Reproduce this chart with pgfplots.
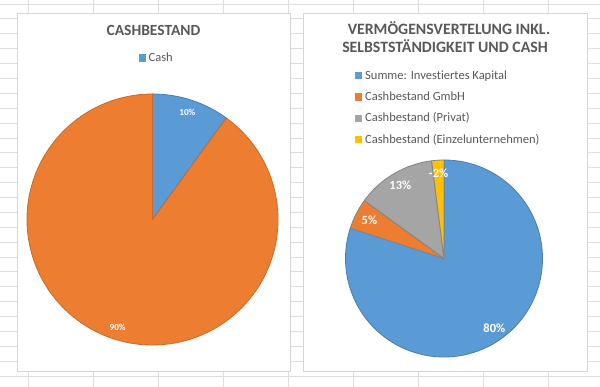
\documentclass[border=0pt]{standalone}
\usepackage{fontspec}
\setmainfont{Carlito}[Ligatures=NoCommon]
\usepackage{pgfplots}
\usepackage{pgfplotstable}
\pgfplotsset{compat=1.18}
\definecolor{xblue}{HTML}{5B9BD5}
\definecolor{xorange}{HTML}{ED7D31}
\definecolor{xgray}{HTML}{A5A5A5}
\definecolor{xyellow}{HTML}{FFC000}
\definecolor{txt}{HTML}{595959}
\definecolor{gridc}{HTML}{DEDEDE}
\definecolor{panelc}{HTML}{D6D6D6}

\pgfplotstableread{
slice value
Cash 10
Rest 90
}\cashdata
\pgfplotstableread{
slice value
Kapital 80
GmbH 5
Privat 13
Einzel -2
}\vermdata

\newcommand\slice[5]{%
  \fill[#4, draw=#5, line width=0.8pt, line join=round] (axis cs:0,0) -- (axis cs:{cos(#1)},{sin(#1)})
    arc[start angle=#1, end angle=#2, radius=#3] -- cycle;}

\begin{document}
\begin{tikzpicture}
\begin{scope}[x=1pt,y=1pt]
\fill[white] (0,0) rectangle (600,387);
% spreadsheet grid
\foreach \k in {0,...,8} \draw[overlay, gridc, line width=0.8pt] ({28+65*\k},0) -- ({28+65*\k},387);
\foreach \k in {0,...,25} \draw[overlay, gridc, line width=0.8pt] (0,{387-4-14.88*\k}) -- (600,{387-4-14.88*\k});
% chart panels
\filldraw[fill=white, draw=panelc, line width=0.8pt] (17,{387-13.5}) rectangle (290,{387-371});
\filldraw[fill=white, draw=panelc, line width=0.8pt] (303,{387-13.5}) rectangle (587,{387-371});

% left chart texts
\node[font=\fontsize{15.5}{18}\selectfont\bfseries, text=txt, anchor=base] at (153.5,{387-36}) {CASHBESTAND};
\fill[xblue] (139,{387-61.7}) rectangle (146.3,{387-54.5});
\node[font=\fontsize{12.5}{15}\selectfont, text=txt, anchor=base west, inner sep=0pt] at (148.5,{387-61.7}) {Cash};

% right chart texts
\node[font=\fontsize{15.8}{18}\selectfont\bfseries, text=txt, anchor=base] at (449,{387-35}) {VERMÖGENSVERTELUNG INKL.};
\node[font=\fontsize{15.8}{18}\selectfont\bfseries, text=txt, anchor=base] at (445,{387-52.7}) {SELBSTSTÄNDIGKEIT UND CASH};
\foreach \c/\t/\yb in {xblue/{Summe: Investiertes Kapital}/79.3, xorange/{Cashbestand GmbH}/100.6, xgray/{Cashbestand (Privat)}/122, xyellow/{Cashbestand (Einzelunternehmen)}/143.3}{
  \fill[\c] (355,{387-\yb}) rectangle (362.3,{387-\yb+7.2});
  \node[font=\fontsize{12.5}{15}\selectfont, text=txt, anchor=base west, inner sep=0pt] at (365,{387-\yb}) {\t};
}
\end{scope}

% angles from data
\pgfplotstablegetelem{0}{value}\of\cashdata \pgfmathsetmacro\cA{abs(\pgfplotsretval)}
\pgfplotstablegetelem{1}{value}\of\cashdata \pgfmathsetmacro\cB{abs(\pgfplotsretval)}
\pgfmathsetmacro\cT{\cA+\cB}
\pgfmathsetmacro\cAe{90-360*(\cA/\cT)}
\pgfmathsetmacro\cBe{\cAe-360*(\cB/\cT)}
\pgfmathsetmacro\cAm{(90+\cAe)/2}
\pgfmathsetmacro\cBm{(\cAe+\cBe)/2}

\pgfplotstablegetelem{0}{value}\of\vermdata \pgfmathsetmacro\vA{abs(\pgfplotsretval)}
\pgfplotstablegetelem{1}{value}\of\vermdata \pgfmathsetmacro\vB{abs(\pgfplotsretval)}
\pgfplotstablegetelem{2}{value}\of\vermdata \pgfmathsetmacro\vC{abs(\pgfplotsretval)}
\pgfplotstablegetelem{3}{value}\of\vermdata \pgfmathsetmacro\vD{abs(\pgfplotsretval)}
\pgfmathsetmacro\vT{\vA+\vB+\vC+\vD}
\pgfmathsetmacro\vAe{90-360*(\vA/\vT)}
\pgfmathsetmacro\vBe{\vAe-360*(\vB/\vT)}
\pgfmathsetmacro\vCe{\vBe-360*(\vC/\vT)}
\pgfmathsetmacro\vDe{\vCe-360*(\vD/\vT)}
\pgfmathsetmacro\vAm{(90+\vAe)/2}
\pgfmathsetmacro\vBm{(\vAe+\vBe)/2}
\pgfmathsetmacro\vCm{(\vBe+\vCe)/2}
\pgfmathsetmacro\vDm{(\vCe+\vDe)/2}

\begin{axis}[hide axis, scale only axis, width=251pt, height=251pt,
  xmin=-1, xmax=1, ymin=-1, ymax=1, at={(27pt,42pt)}, anchor=south west, clip=false]
\slice{90}{\cAe}{125.5pt}{xblue}{xblue!80!black}
\slice{\cAe}{\cBe}{125.5pt}{xorange}{xorange!85!black}
\node[font=\fontsize{9.2}{11}\selectfont\bfseries, text=white] at (axis cs:{0.9*cos(\cAm)},{0.9*sin(\cAm)}) {10\%};
\node[font=\fontsize{9.2}{11}\selectfont\bfseries, text=white] at (axis cs:{0.9*cos(\cBm)},{0.9*sin(\cBm)}) {90\%};
\end{axis}

\begin{axis}[hide axis, scale only axis, width=197pt, height=197pt,
  xmin=-1, xmax=1, ymin=-1, ymax=1, at={(345.5pt,30pt)}, anchor=south west, clip=false]
\slice{90}{\vAe}{98.5pt}{xblue}{xblue!80!black}
\slice{\vAe}{\vBe}{98.5pt}{xorange}{xgray!80!black}
\slice{\vBe}{\vCe}{98.5pt}{xgray}{xgray!80!black}
\slice{\vCe}{\vDe}{98.5pt}{xyellow}{xgray!80!black}
\node[font=\fontsize{12.5}{15}\selectfont\bfseries, text=white] at (axis cs:{0.87*cos(\vAm)},{0.87*sin(\vAm)}) {80\%};
\node[font=\fontsize{12.5}{15}\selectfont\bfseries, text=white] at (axis cs:{0.85*cos(\vBm)},{0.85*sin(\vBm)}) {5\%};
\node[font=\fontsize{12.5}{15}\selectfont\bfseries, text=white] at (axis cs:{0.87*cos(\vCm)},{0.87*sin(\vCm)}) {13\%};
\node[font=\fontsize{12.5}{15}\selectfont\bfseries, text=white] at (axis cs:{0.87*cos(\vDm)},{0.87*sin(\vDm)}) {-2\%};
\end{axis}
\end{tikzpicture}
\end{document}
